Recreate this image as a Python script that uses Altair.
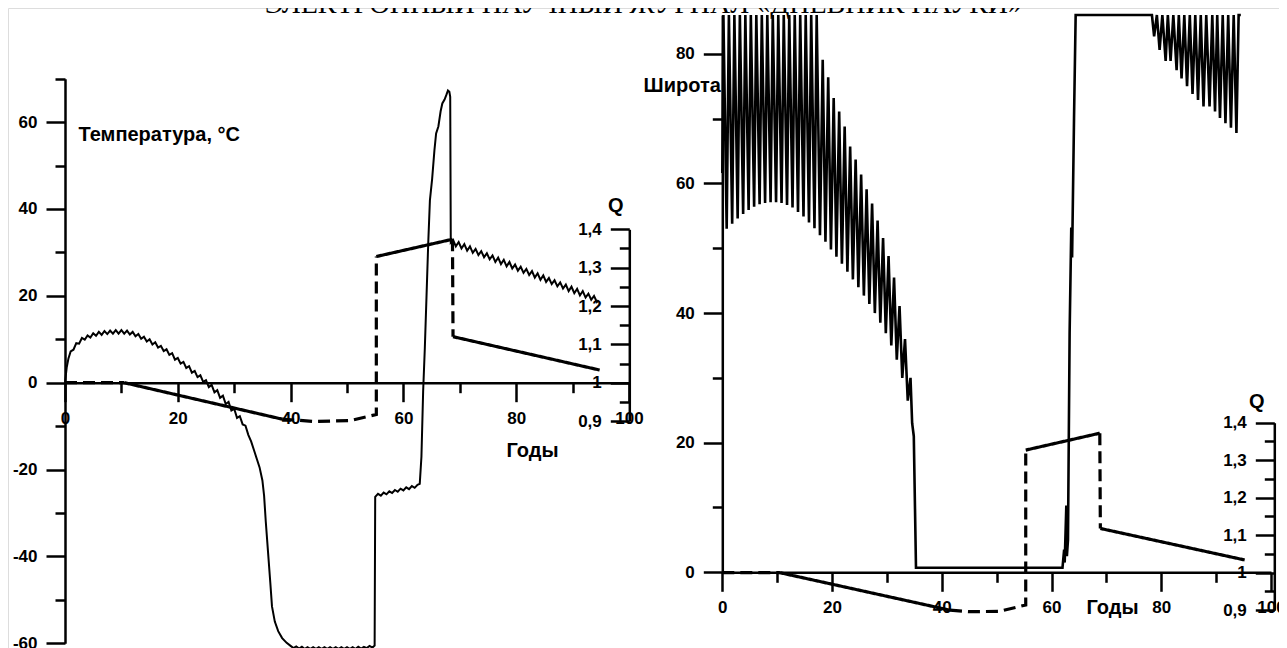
import altair as alt
import pandas as pd

# ---------------- data ----------------
temp_rise = [(0,0),(0.3,3.5),(0.6,5.5),(1,7.2),(1.5,7.6),(2,9.1),(2.5,9.0),(3,10.3),(3.5,9.9),(4,10.9),
             (4.5,10.4),(5,11.4),(5.5,10.8),(6,11.7),(6.5,11.0),(7,11.9),(7.5,11.2),(8,12.0),(8.5,11.3),
             (9,12.1),(9.5,11.3),(10,12.1),(10.5,11.3),(11,12.0),(11.5,11.1),(12,11.7),(12.5,10.7),(13,11.2),
             (13.5,10.1),(14,10.6),(14.5,9.5),(15,10.0),(15.5,8.8),(16,9.3),(16.5,8.1),(17,8.5),(17.5,7.3),
             (18,7.7),(18.5,6.4),(19,6.8),(19.5,5.3),(20,5.7),(20.5,4.4),(21,4.8),(21.5,3.4),(22,3.8),
             (22.5,2.3),(23,2.7),(23.5,1.3),(24,1.7),(24.5,0.2),(25,0.6),(25.5,-1.0),(26,-0.5),(26.5,-2.2),
             (27,-1.7),(27.5,-3.5),(28,-3.0),(28.5,-4.9),(29,-4.4),(29.5,-6.4),(30,-6.0),(30.5,-8.1),
             (31,-7.7),(31.5,-9.6),(32,-9.9),(32.5,-12.0),(33,-13.5),(33.5,-15.5),(34,-17.5),(34.5,-19.5),
             (35,-22.5),(35.3,-26.0),(35.6,-32.0),(36,-39.0),(36.4,-46.0),(36.7,-51.5),(37.2,-55.0),
             (37.8,-57.2),(38.5,-58.8),(39.3,-59.9)]
temp_cold = [(40,-60.6),(40.5,-61.1),(41,-60.7),(41.5,-61.2),(42,-60.8),(42.5,-61.3),(43,-60.9),(43.5,-61.3),
             (44,-60.9),(44.5,-61.3),(45,-60.9),(45.5,-61.3),(46,-60.9),(46.5,-61.3),(47,-60.9),(47.5,-61.3),
             (48,-60.9),(48.5,-61.3),(49,-60.9),(49.5,-61.3),(50,-60.9),(50.5,-61.3),(51,-60.9),(51.5,-61.3),
             (52,-60.8),(52.5,-61.2),(53,-60.8),(53.5,-61.1),(54,-60.6),(54.5,-61.0),(54.9,-60.5)]
temp_warm = [(55.0,-26.3),(55.5,-25.6),(56,-26.0),(56.5,-25.3),(57,-25.7),(57.5,-25.0),(58,-25.4),(58.5,-24.7),
             (59,-25.1),(59.5,-24.4),(60,-24.8),(60.5,-24.1),(61,-24.5),(61.5,-23.8),(62,-24.2),(62.5,-23.5),
             (62.9,-23.3),(63.2,-17.0),(63.5,-2.0),(63.8,8.0),(64.1,20.0),(64.4,32.0),(64.7,42.0),(65.1,47.0),
             (65.5,53.5),(65.8,57.4),(66.2,59.0),(66.6,62.5),(66.9,64.3),(67.3,65.2),(67.6,66.2),(67.9,67.3),
             (68.15,67.0),(68.3,65.8),(68.4,32.3)]
temp_tail = [(68.8,32.9),(69.3,31.4),(69.8,32.4),(70.3,30.9),(70.8,31.9),(71.3,30.4),(71.8,31.4),(72.3,29.9),
             (72.8,30.8),(73.3,29.4),(73.8,30.3),(74.3,28.9),(74.8,29.8),(75.3,28.4),(75.8,29.3),(76.3,27.8),
             (76.8,28.8),(77.3,27.3),(77.8,28.3),(78.3,26.8),(78.8,27.8),(79.3,26.3),(79.8,27.2),(80.3,25.8),
             (80.8,26.7),(81.3,25.3),(81.8,26.2),(82.3,24.8),(82.8,25.7),(83.3,24.2),(83.8,25.2),(84.3,23.7),
             (84.8,24.7),(85.3,23.2),(85.8,24.1),(86.3,22.7),(86.8,23.6),(87.3,22.2),(87.8,23.1),(88.3,21.7),
             (88.8,22.6),(89.3,21.1),(89.8,22.1),(90.3,20.6),(90.8,21.6),(91.3,20.1),(91.8,21.1),(92.3,19.6),
             (92.8,20.5),(93.3,19.1),(93.8,20.0),(94.3,18.6),(94.6,19.0)]

lat_early = [(0.0,61.6),(0.2,86),(0.8,53.0),(1.2,86),(1.8,53.8),(2.2,86),(2.8,54.6),(3.2,86),(3.8,55.3),
             (4.2,86),(4.8,55.9),(5.2,86),(5.8,56.4),(6.2,86),(6.8,56.8),(7.2,86),(7.8,57.0),(8.2,86),
             (8.8,57.1),(9.2,86),(9.8,57.1),(10.2,86),(10.8,57.0),(11.2,86),(11.8,56.7),(12.2,86),(12.8,56.3),
             (13.2,86),(13.8,55.6),(14.2,86),(14.8,54.9),(15.2,86),(15.8,54.0),(16.2,86),(16.8,53.1),
             (17.2,86),(17.8,52.0)]
lat_decline = [(18.3,79.1),(18.8,51.0),(19.3,76.4),(19.8,49.8),(20.3,73.2),(20.8,48.7),(21.3,71.1),(21.8,47.6),
               (22.3,68.8),(22.8,46.4),(23.3,65.7),(23.8,45.2),(24.3,63.7),(24.8,44.0),(25.3,61.4),(25.8,42.7),
               (26.3,59.1),(26.8,41.4),(27.3,56.9),(27.8,40.0),(28.3,54.3),(28.8,38.5),(29.3,51.6),(29.8,36.9),
               (30.3,48.8),(30.8,35.0),(31.3,45.5),(31.8,32.8),(32.3,41.1),(32.8,30.0),(33.3,36.0),(33.8,26.5),
               (34.3,30.0),(34.6,23.0),(34.9,21.0),(35.3,0.7)]
lat_rise = [(62.0,0.7),(62.3,3.5),(62.4,1.5),(62.7,10.3),(62.8,2.5),(63.0,5.0),(63.3,37.0),(63.6,53.2),
            (63.75,48.6),(64.1,70.0),(64.4,86),(78.3,86)]
lat_late = [(78.7,82.7),(79.2,86),(79.7,80.6),(80.2,86),(80.8,78.9),(81.2,86),(81.7,78.9),(82.2,86),
            (82.8,77.5),(83.2,86),(83.7,76.2),(84.2,86),(84.7,75.0),(85.2,86),(85.7,73.8),(86.2,86),
            (86.7,72.9),(87.2,86),(87.7,71.9),(88.2,86),(88.8,71.9),(89.3,86),(89.8,71.1),(90.2,86),
            (90.7,70.1),(91.2,86),(91.7,69.3),(92.2,86),(92.7,68.6),(93.2,86),(93.7,67.8),(94.1,86),(94.5,86)]

q_left = [("dashed", [(0,1.0),(10.5,1.0)]),
          ("solid",  [(10.5,1.0),(38.5,0.905)]),
          ("dashed", [(38.5,0.905),(44,0.899),(50.5,0.901),(55.2,0.917),(55.2,1.329)]),
          ("solid",  [(55.2,1.329),(68.7,1.374)]),
          ("dashed", [(68.7,1.374),(68.8,1.12)]),
          ("solid",  [(68.8,1.12),(94.8,1.033)])]
q_right = [("dashed", [(0,1.0),(10.5,1.0)]),
           ("solid",  [(10.5,1.0),(41.5,0.9)]),
           ("dashed", [(41.5,0.9),(45,0.896),(50.5,0.897),(55.3,0.914),(55.3,1.327)]),
           ("solid",  [(55.3,1.327),(68.8,1.372)]),
           ("dashed", [(68.8,1.372),(68.9,1.118)]),
           ("solid",  [(68.9,1.118),(95.2,1.034)])]

x_major = [0, 20, 40, 60, 80, 100]
x_minor = [10, 30, 50, 70, 90]
t_major = [-60, -40, -20, 0, 20, 40, 60]
t_minor = [-50, -30, -10, 10, 30, 50, 70]
lat_major = [0, 20, 40, 60, 80]
lat_minor = [10, 30, 50, 70]
q_major = [0.9, 1.0, 1.1, 1.2, 1.3, 1.4]
q_minor = [0.95, 1.05, 1.15, 1.25, 1.35]

header = ["ЭЛЕКТРОННЫЙ НАУЧНЫЙ ЖУРНАЛ «ДНЕВНИК НАУКИ»"]

# ---------------- tables ----------------
def series(parts, name):
    pts = [p for part in parts for p in part]
    return pd.DataFrame({"year": [p[0] for p in pts], name: [p[1] for p in pts], "i": range(len(pts))})

def qseries(segs):
    rows = []
    k = 0
    for s, (style, pts) in enumerate(segs):
        for x, q in pts:
            rows.append({"year": x, "q": q, "seg": s, "style": style, "i": k})
            k += 1
    return pd.DataFrame(rows)

temp_df = series([temp_rise, temp_cold, temp_warm, temp_tail], "t")
lat_df = series([lat_early, lat_decline, lat_rise, lat_late], "lat")
qL_df = qseries(q_left)
qR_df = qseries(q_right)
head_df = pd.DataFrame({"text": header})

# ---------------- layout ----------------
W, H = 1271, 640
FONT = "Liberation Sans"
LBL = dict(labelFont=FONT, labelFontSize=17, labelFontWeight="bold", labelColor="black",
           labelOverlap=False, labelFlush=False, titleFont=FONT, titleFontSize=20,
           titleFontWeight="bold", titleColor="black", domainColor="black", domainWidth=2.5,
           tickColor="black", tickWidth=2.5, grid=False)

def major(values, orient, offset, **kw):
    return alt.Axis(values=values, orient=orient, offset=offset, tickSize=19, **LBL, **kw)

def minor(values, orient, offset):
    return alt.Axis(values=values, orient=orient, offset=offset, tickSize=10, labels=False,
                    domain=False, title=None, tickColor="black", tickWidth=2.5, grid=False)

def sc(d, r):
    return alt.Scale(domain=d, range=r, nice=False, zero=False)

xL = [0, 100], [57, 621]
tL = [-60, 70], [635.3, 70.7]
qLs = [0.9, 1.4], [413.05, 221.3]
xR = [0, 100], [714.3, 1263]
latR = [0, 86], [564.3, 7]
qRs = [0.9, 1.4], [602.2, 414.7]

neg_fmt = "datum.value < 0 ? '-' + abs(datum.value) : '' + datum.value"
q_fmt = "replace(format(datum.value, '.1~f'), '.', ',')"

temp_line = alt.Chart(temp_df).mark_line(color="black", strokeWidth=2).encode(
    x=alt.X("year:Q", scale=sc(*xL), axis=major(x_major, "bottom", -(H - 374.7), labelPadding=9,
            title="Годы", titleX=524, titleY=67.3, titleAlign="center", titleBaseline="middle")),
    y=alt.Y("t:Q", scale=sc(*tL), axis=major(t_major, "left", -57, labelPadding=9, labelExpr=neg_fmt,
            title="Температура, °C", titleAngle=0, titleX=13, titleY=126, titleAlign="left",
            titleBaseline="middle")),
    order="i:Q")
temp_minor = alt.Chart(temp_df).mark_point(opacity=0).encode(
    x=alt.X("year:Q", scale=sc(*xL), axis=minor(x_minor, "bottom", -(H - 374.7))),
    y=alt.Y("t:Q", scale=sc(*tL), axis=minor(t_minor, "left", -57)))

dash = alt.StrokeDash("style:N", scale=alt.Scale(domain=["solid", "dashed"], range=[[1, 0], [12, 6]]), legend=None)

qL_line = alt.Chart(qL_df).mark_line(color="black", strokeWidth=3.2).encode(
    x=alt.X("year:Q", scale=sc(*xL), axis=None),
    y=alt.Y("q:Q", scale=sc(*qLs), axis=major(q_major, "left", -621.3, labelPadding=9, labelExpr=q_fmt,
            title="Q", titleAngle=0, titleX=-14, titleY=197, titleAlign="center", titleBaseline="middle")),
    strokeDash=dash, detail="seg:N", order="i:Q")
qL_minor = alt.Chart(qL_df).mark_point(opacity=0).encode(
    x=alt.X("year:Q", scale=sc(*xL), axis=None),
    y=alt.Y("q:Q", scale=sc(*qLs), axis=minor(q_minor, "left", -621.3)))

lat_line = alt.Chart(lat_df).mark_line(color="black", strokeWidth=2.6).encode(
    x=alt.X("year:Q", scale=sc(*xR), axis=major(x_major, "bottom", -(H - 564.3), labelPadding=8,
            title="Годы", titleX=1104, titleY=34.7, titleAlign="center", titleBaseline="middle")),
    y=alt.Y("lat:Q", scale=sc(*latR), axis=major(lat_major, "left", -714.3, labelPadding=9,
            title="Широта", titleAngle=0, titleX=-2, titleY=77, titleAlign="right",
            titleBaseline="middle")),
    order="i:Q")
lat_minor = alt.Chart(lat_df).mark_point(opacity=0).encode(
    x=alt.X("year:Q", scale=sc(*xR), axis=minor(x_minor, "bottom", -(H - 564.3))),
    y=alt.Y("lat:Q", scale=sc(*latR), axis=minor(lat_minor, "left", -714.3)))

qR_line = alt.Chart(qR_df).mark_line(color="black", strokeWidth=3.2).encode(
    x=alt.X("year:Q", scale=sc(*xR), axis=None),
    y=alt.Y("q:Q", scale=sc(*qRs), axis=major(q_major, "left", -1266.3, labelPadding=9, labelExpr=q_fmt,
            title="Q", titleAngle=0, titleX=-18, titleY=393.5, titleAlign="center", titleBaseline="middle")),
    strokeDash=dash, detail="seg:N", order="i:Q")
qR_minor = alt.Chart(qR_df).mark_point(opacity=0).encode(
    x=alt.X("year:Q", scale=sc(*xR), axis=None),
    y=alt.Y("q:Q", scale=sc(*qRs), axis=minor(q_minor, "left", -1266.3)))

head = alt.Chart(head_df).mark_text(font="Liberation Serif", fontSize=28, color="black",
                                    align="center", baseline="alphabetic").encode(
    text="text:N", x=alt.value(635.5), y=alt.value(5))

chart = alt.layer(
    temp_line, temp_minor, qL_line, qL_minor, lat_line, lat_minor, qR_line, qR_minor, head
).resolve_scale(
    x="independent", y="independent"
).properties(
    width=W, height=H, padding=0,
    autosize=alt.AutoSizeParams(type="none"),
).configure_view(stroke=None).configure(background="white")

chart.save("out.html", embed_options={"renderer": "svg", "actions": False})
